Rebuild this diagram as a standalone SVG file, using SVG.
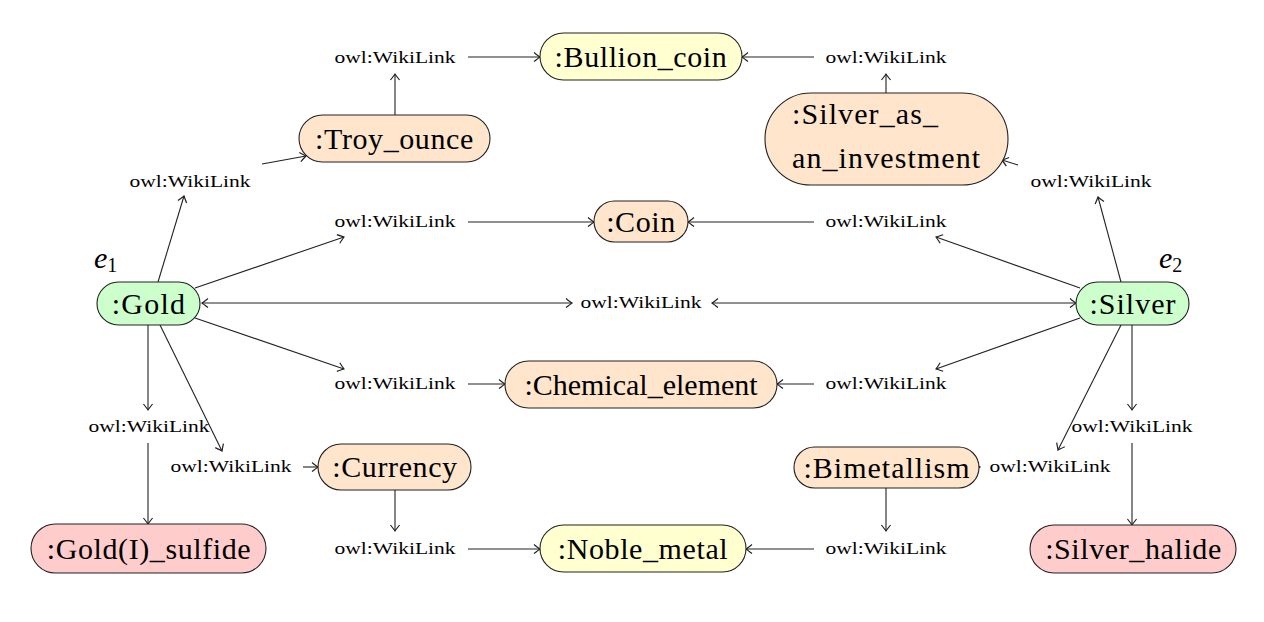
<svg xmlns="http://www.w3.org/2000/svg" width="1264" height="622" viewBox="0 0 1264 622">
<defs>
<marker id="ah" markerWidth="12" markerHeight="12" refX="0" refY="0" viewBox="-6 -5 7 10" orient="auto-start-reverse" markerUnits="userSpaceOnUse">
<path d="M -5 -3.8 Q -1.2 -0.8 0 0 Q -1.2 0.8 -5 3.8" fill="none" stroke="#222" stroke-width="1"/>
</marker>
<style>
.n{stroke:#222;stroke-width:1.1}
.g{fill:#ccffcc}.o{fill:#ffe5cc}.y{fill:#ffffd0}.p{fill:#ffcccc}
.c line{stroke:#222;stroke-width:1.1;marker-end:url(#ah)}
.c line.bi{marker-start:url(#ah)}
</style>
</defs>
<rect width="1264" height="622" fill="#fff"/>

<g id="connectors" class="c">
<line x1="395" y1="115" x2="395" y2="74"/>
<line x1="468" y1="57" x2="540" y2="57"/>
<line x1="814" y1="57" x2="742" y2="57"/>
<line x1="886" y1="93" x2="886" y2="74"/>
<line x1="158" y1="282" x2="184" y2="196"/>
<line x1="262" y1="164" x2="306" y2="156"/>
<line x1="1121" y1="282" x2="1098" y2="197"/>
<line x1="1018" y1="165" x2="1002" y2="160"/>
<line x1="195" y1="288" x2="344" y2="237"/>
<line x1="468" y1="222" x2="594" y2="222"/>
<line x1="814" y1="222" x2="688" y2="222"/>
<line x1="1080" y1="288" x2="936" y2="237"/>
<line class="bi" x1="202" y1="303" x2="572" y2="303"/>
<line class="bi" x1="712" y1="303" x2="1076" y2="303"/>
<line x1="195" y1="318" x2="344" y2="369"/>
<line x1="468" y1="384" x2="505" y2="384"/>
<line x1="814" y1="384" x2="777" y2="384"/>
<line x1="1080" y1="318" x2="936" y2="369"/>
<line x1="148" y1="325" x2="148" y2="410"/>
<line x1="148" y1="443" x2="148" y2="524"/>
<line x1="160" y1="325" x2="222" y2="451"/>
<line x1="303" y1="467" x2="318" y2="467"/>
<line x1="395" y1="490" x2="395" y2="531"/>
<line x1="468" y1="549" x2="540" y2="549"/>
<line x1="814" y1="549" x2="746" y2="549"/>
<line x1="886" y1="488" x2="886" y2="531"/>
<line x1="1121" y1="325" x2="1058" y2="450"/>
<line x1="975" y1="467" x2="980" y2="467"/>
<line x1="1132" y1="325" x2="1132" y2="410"/>
<line x1="1132" y1="443" x2="1132" y2="525"/>
</g>

<g id="labels" font-family="Liberation Serif, DejaVu Serif, serif" font-size="16" fill="#000" text-anchor="middle">
<text x="395" y="63" textLength="121" lengthAdjust="spacingAndGlyphs">owl:WikiLink</text>
<text x="886" y="63" textLength="121" lengthAdjust="spacingAndGlyphs">owl:WikiLink</text>
<text x="190" y="187" textLength="121" lengthAdjust="spacingAndGlyphs">owl:WikiLink</text>
<text x="1091" y="187" textLength="121" lengthAdjust="spacingAndGlyphs">owl:WikiLink</text>
<text x="395" y="227" textLength="121" lengthAdjust="spacingAndGlyphs">owl:WikiLink</text>
<text x="886" y="227" textLength="121" lengthAdjust="spacingAndGlyphs">owl:WikiLink</text>
<text x="641" y="308" textLength="121" lengthAdjust="spacingAndGlyphs">owl:WikiLink</text>
<text x="395" y="389" textLength="121" lengthAdjust="spacingAndGlyphs">owl:WikiLink</text>
<text x="886" y="389" textLength="121" lengthAdjust="spacingAndGlyphs">owl:WikiLink</text>
<text x="149" y="432" textLength="121" lengthAdjust="spacingAndGlyphs">owl:WikiLink</text>
<text x="231" y="472" textLength="121" lengthAdjust="spacingAndGlyphs">owl:WikiLink</text>
<text x="395" y="554" textLength="121" lengthAdjust="spacingAndGlyphs">owl:WikiLink</text>
<text x="1050" y="472" textLength="121" lengthAdjust="spacingAndGlyphs">owl:WikiLink</text>
<text x="1132" y="432" textLength="121" lengthAdjust="spacingAndGlyphs">owl:WikiLink</text>
<text x="886" y="554" textLength="121" lengthAdjust="spacingAndGlyphs">owl:WikiLink</text>
</g>

<g font-family="Liberation Serif, DejaVu Serif, serif" font-size="30" fill="#000" text-anchor="middle" letter-spacing="0.6">
<g id="node-bullion-coin">
<rect class="n y" x="540" y="33" width="202" height="47" rx="23.5"/>
<text x="641" y="66.5">:Bullion_coin</text>
</g>
<g id="node-troy-ounce">
<rect class="n o" x="299" y="115" width="191" height="47" rx="23.5"/>
<text x="394.5" y="148.5">:Troy_ounce</text>
</g>
<g id="node-silver-as-an-investment">
<rect class="n o" x="765" y="93" width="243" height="92" rx="46"/>
<text x="792" y="124" text-anchor="start" letter-spacing="1.1">:Silver_as_</text>
<text x="792" y="168" text-anchor="start" letter-spacing="1.1">an_investment</text>
</g>
<g id="node-coin">
<rect class="n o" x="594" y="201" width="94" height="41" rx="20.5"/>
<text x="641" y="232">:Coin</text>
</g>
<g id="node-gold">
<rect class="n g" x="97" y="282" width="103" height="43" rx="21.5"/>
<text x="149" y="314" letter-spacing="1.2">:Gold</text>
</g>
<g id="node-silver">
<rect class="n g" x="1076" y="282" width="113" height="43" rx="21.5"/>
<text x="1133" y="314" letter-spacing="1">:Silver</text>
</g>
<g id="node-chemical-element">
<rect class="n o" x="505" y="361" width="272" height="47" rx="23.5"/>
<text x="641" y="394.5" letter-spacing="0">:Chemical_element</text>
</g>
<g id="node-currency">
<rect class="n o" x="318" y="444" width="153" height="46" rx="23"/>
<text x="395" y="477">:Currency</text>
</g>
<g id="node-bimetallism">
<rect class="n o" x="794" y="447" width="185" height="41" rx="20.5"/>
<text x="887" y="478" letter-spacing="1">:Bimetallism</text>
</g>
<g id="node-gold-i-sulfide">
<rect class="n p" x="31" y="524" width="235" height="49" rx="24.5"/>
<text x="149" y="559">:Gold(I)_sulfide</text>
</g>
<g id="node-noble-metal">
<rect class="n y" x="540" y="525" width="206" height="47" rx="23.5"/>
<text x="643" y="559">:Noble_metal</text>
</g>
<g id="node-silver-halide">
<rect class="n p" x="1030" y="525" width="206" height="48" rx="24"/>
<text x="1133.5" y="559">:Silver_halide</text>
</g>
</g>

<g id="entity-labels" font-family="Liberation Serif, DejaVu Serif, serif" fill="#000">
<text x="94" y="268"><tspan font-style="italic" font-size="30">e</tspan><tspan font-size="20" dy="4">1</tspan></text>
<text x="1159" y="268"><tspan font-style="italic" font-size="30">e</tspan><tspan font-size="20" dy="4">2</tspan></text>
</g>
</svg>
